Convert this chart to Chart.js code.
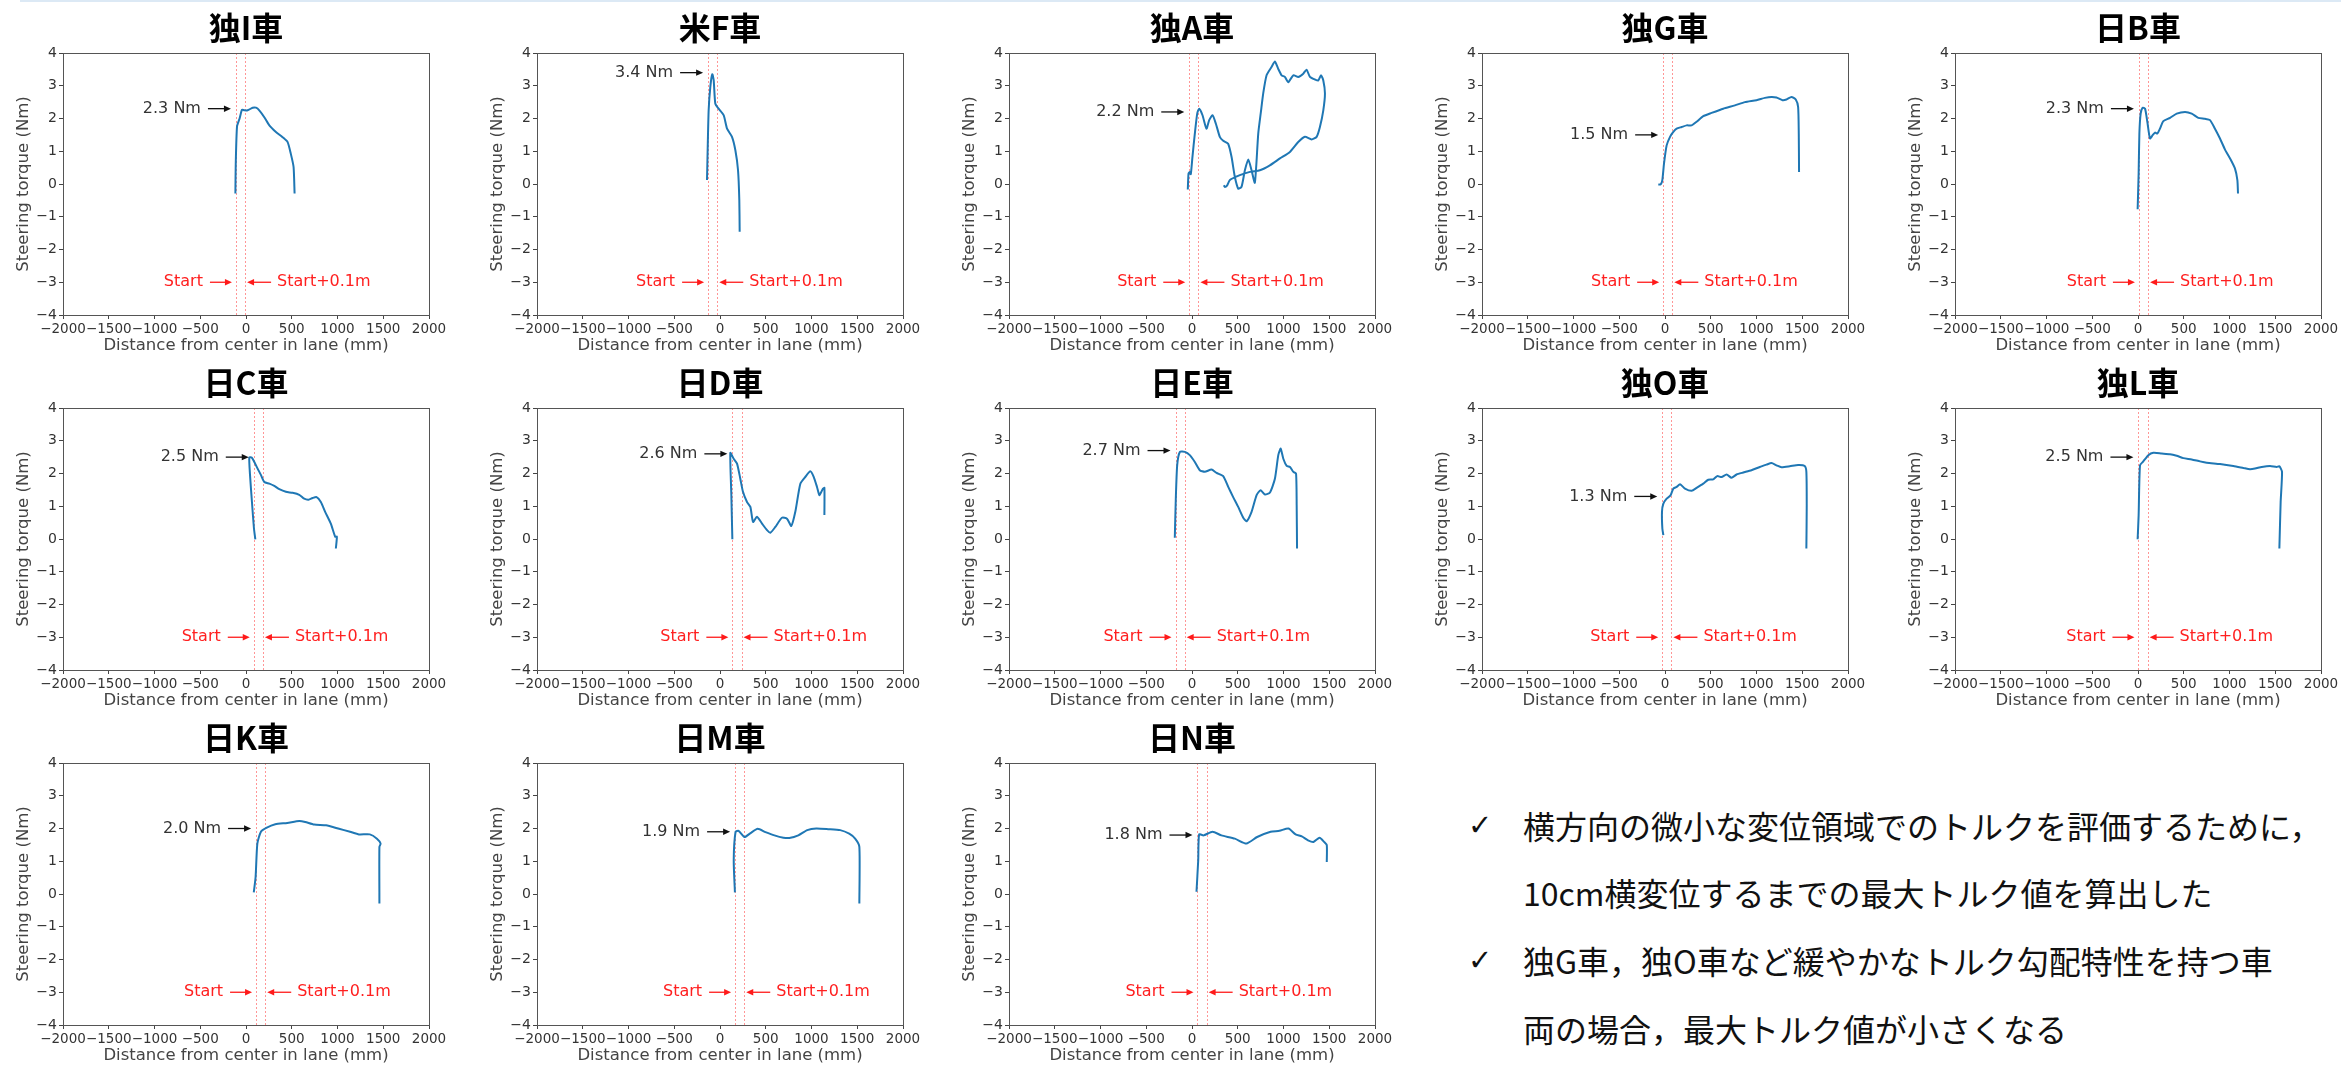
<!DOCTYPE html>
<html>
<head>
<meta charset="utf-8">
<script src="https://cdn.jsdelivr.net/npm/chart.js@4.4.0/dist/chart.umd.min.js"></script>
<style>
  html, body { margin: 0; padding: 0; background: #fff; }
  body { width: 2341px; height: 1065px; position: relative; overflow: hidden; }
  canvas { position: absolute; }
  .topline { position: absolute; left: 20px; right: 0; top: 0; height: 2px; background: #dce9f5; }
  .note { position: absolute; left: 1523px; font-family: "Noto Sans CJK JP"; font-size: 32px; line-height: 40px; color: #111; white-space: nowrap; }
  .check { position: absolute; left: 1468px; font-family: "DejaVu Sans"; font-size: 29px; line-height: 40px; color: #111; }
</style>
</head>
<body>
<div class="topline"></div>
<script>
// vehicle names, start position (mm) and max torque within start..start+0.1m (Nm)
const carNames = ['独I車', '米F車', '独A車', '独G車', '日B車', '日C車', '日D車', '日E車', '独O車', '独L車', '日K車', '日M車', '日N車'];
const startPos = [-110, -130, -30, -20, 10, 85, 135, -180, -30, 5, 110, 165, 60];
const peakTorque = [2.3, 3.4, 2.2, 1.5, 2.3, 2.5, 2.6, 2.7, 1.3, 2.5, 2.0, 1.9, 1.8];

const xTicks = [-2000, -1500, -1000, -500, 0, 500, 1000, 1500, 2000];
const yTicks = [-4, -3, -2, -1, 0, 1, 2, 3, 4];

// distance from center in lane (mm) / steering torque (Nm)
const distI = [-116, -112, -98, -70, -44, -18, 18, 73, 109, 145, 200, 255, 327, 400, 455, 490, 520, 531];
const torqueI = [-0.29, 0.62, 1.76, 2.00, 2.27, 2.25, 2.25, 2.33, 2.33, 2.25, 2.04, 1.79, 1.59, 1.43, 1.28, 0.92, 0.52, -0.29];

const distF = [-142, -135, -124, -106, -84, -69, -51, -15, 40, 77, 131, 168, 197, 211, 215];
const torqueF = [0.12, 1.03, 2.25, 2.96, 3.35, 3.17, 2.45, 2.30, 2.10, 1.69, 1.44, 1.03, 0.42, -0.49, -1.46];

const distA = [-46, -38, -24, -13, 5, 31, 57, 78, 115, 158, 188, 224, 261, 304, 341, 395, 432, 468, 505, 541,
  578, 615, 651, 687, 724, 753, 778, 815, 869, 906, 942, 979, 1015, 1052, 1107, 1161, 1216, 1252, 1289, 1344,
  1380, 1410, 1435, 1453, 1435, 1398, 1362, 1307, 1234, 1161, 1070, 961, 851, 742, 633, 523, 414, 385, 359, 348];
const torqueA = [-0.17, 0.32, 0.37, 0.30, 0.83, 1.54, 2.15, 2.30, 2.10, 1.69, 1.95, 2.10, 1.84, 1.44, 1.32, 1.23, 0.83, 0.22, -0.14, -0.09,
  0.42, 0.75, 0.42, 0.04, 1.54, 2.20, 2.76, 3.32, 3.57, 3.74, 3.52, 3.32, 3.27, 3.11, 3.32, 3.27, 3.37, 3.49, 3.27, 3.19,
  3.16, 3.32, 3.16, 2.76, 2.25, 1.74, 1.44, 1.36, 1.44, 1.28, 0.98, 0.78, 0.57, 0.42, 0.37, 0.27, 0.12, -0.04, -0.09, -0.04];

const distG = [-73, -47, -29, -11, 18, 55, 91, 127, 182, 236, 291, 345, 418, 509, 636, 764, 873, 1000, 1091, 1164, 1218, 1284, 1327, 1382, 1429, 1455, 1462, 1465];
const torqueG = [-0.02, -0.01, 0.12, 0.62, 1.18, 1.44, 1.59, 1.69, 1.74, 1.79, 1.79, 1.90, 2.07, 2.17, 2.30, 2.40, 2.50, 2.56, 2.63, 2.66, 2.64, 2.56, 2.58, 2.66, 2.58, 2.35, 1.54, 0.37];

const distB = [-4, 7, 15, 29, 51, 77, 102, 131, 160, 186, 211, 240, 277, 350, 423, 514, 587, 659, 732, 787, 841, 896, 951, 1006, 1060, 1086, 1093];
const torqueB = [-0.77, 0.32, 1.54, 2.15, 2.33, 2.30, 1.90, 1.39, 1.49, 1.57, 1.54, 1.69, 1.92, 2.02, 2.15, 2.20, 2.15, 2.02, 1.99, 1.95, 1.69, 1.39, 1.05, 0.78, 0.47, 0.12, -0.29];

const distC = [102, 87, 65, 44, 36, 62, 91, 127, 164, 200, 255, 309, 364, 436, 509, 582, 636, 684, 727, 771, 818, 865, 927, 975, 993, 982];
const torqueC = [-0.01, 0.32, 1.13, 1.95, 2.49, 2.49, 2.35, 2.15, 1.95, 1.74, 1.69, 1.62, 1.52, 1.44, 1.41, 1.35, 1.23, 1.20, 1.25, 1.28, 1.13, 0.83, 0.47, 0.07, 0.07, -0.29];

const distD = [135, 124, 113, 149, 186, 222, 251, 295, 332, 361, 404, 459, 514, 550, 605, 677, 732, 779, 823, 878, 933, 987, 1024, 1060, 1086, 1108, 1126, 1141, 1141];
const torqueD = [-0.01, 1.34, 2.63, 2.45, 2.30, 1.84, 1.44, 1.13, 0.98, 0.52, 0.68, 0.47, 0.27, 0.19, 0.37, 0.65, 0.62, 0.40, 0.83, 1.69, 1.90, 2.07, 1.90, 1.59, 1.34, 1.44, 1.54, 1.56, 0.73];

const distE = [-188, -177, -162, -133, -78, -24, 31, 85, 140, 213, 268, 341, 396, 450, 505, 560, 596, 651, 706, 749, 797, 852, 906, 943, 969, 998, 1035, 1071, 1108, 1137, 1144, 1148];
const torqueE = [0.04, 1.23, 2.25, 2.66, 2.66, 2.56, 2.35, 2.10, 2.05, 2.12, 2.02, 1.92, 1.59, 1.28, 0.98, 0.65, 0.54, 0.83, 1.34, 1.49, 1.36, 1.42, 1.84, 2.56, 2.76, 2.45, 2.23, 2.20, 2.05, 2.00, 1.03, -0.29];

const distO = [-18, -29, -33, -18, 18, 62, 91, 127, 164, 218, 291, 345, 418, 473, 527, 571, 618, 673, 727, 782, 855, 945, 1036, 1109, 1164, 1218, 1273, 1364, 1455, 1527, 1545, 1549, 1545];
const torqueO = [0.12, 0.32, 0.83, 1.08, 1.23, 1.34, 1.54, 1.59, 1.67, 1.54, 1.47, 1.56, 1.69, 1.81, 1.82, 1.92, 1.89, 1.97, 1.87, 1.97, 2.03, 2.10, 2.20, 2.27, 2.32, 2.25, 2.19, 2.22, 2.26, 2.23, 2.05, 1.03, -0.29];

const distL = [-4, 7, 22, 58, 113, 168, 259, 350, 423, 496, 587, 678, 751, 896, 1042, 1151, 1224, 1279, 1352, 1443, 1515, 1545, 1574, 1559, 1545];
const torqueL = [-0.01, 0.73, 2.25, 2.37, 2.56, 2.63, 2.61, 2.59, 2.54, 2.47, 2.43, 2.37, 2.33, 2.29, 2.23, 2.17, 2.13, 2.15, 2.20, 2.23, 2.20, 2.22, 2.05, 1.13, -0.29];

const distK = [85, 105, 124, 163, 222, 320, 451, 582, 647, 745, 876, 1007, 1137, 1235, 1353, 1431, 1471, 1458, 1458];
const torqueK = [0.05, 0.52, 1.54, 1.90, 2.02, 2.13, 2.17, 2.23, 2.20, 2.12, 2.10, 2.00, 1.90, 1.82, 1.82, 1.69, 1.54, 1.44, -0.29];

const distM = [163, 150, 170, 203, 268, 333, 412, 497, 595, 693, 758, 856, 954, 1052, 1183, 1314, 1412, 1477, 1523, 1523];
const torqueM = [0.05, 1.03, 1.90, 1.93, 1.74, 1.86, 1.99, 1.89, 1.79, 1.72, 1.71, 1.79, 1.95, 2.00, 1.98, 1.95, 1.84, 1.69, 1.44, -0.29];

const distN = [49, 68, 78, 127, 224, 322, 468, 595, 712, 859, 956, 1054, 1132, 1200, 1268, 1327, 1395, 1444, 1473, 1473];
const torqueN = [0.07, 1.03, 1.82, 1.79, 1.90, 1.79, 1.69, 1.54, 1.74, 1.90, 1.93, 2.00, 1.82, 1.76, 1.64, 1.59, 1.72, 1.59, 1.49, 0.98];

const distSets = [distI, distF, distA, distG, distB, distC, distD, distE, distO, distL, distK, distM, distN];
const torqueSets = [torqueI, torqueF, torqueA, torqueG, torqueB, torqueC, torqueD, torqueE, torqueO, torqueL, torqueK, torqueM, torqueN];

const noteLines = [
  '横方向の微小な変位領域でのトルクを評価するために，',
  '10cm横変位するまでの最大トルク値を算出した',
  '独G車，独O車など緩やかなトルク勾配特性を持つ車',
  '両の場合，最大トルク値が小さくなる'
];

// grid placement
const colLeft = [63, 537, 1009, 1482, 1955];
const rowTop = [53, 408, 763];
const plotW = 366, plotH = 262, axisW = 63, titleH = 53, xAxisH = 41, padR = 22;

Chart.defaults.font.family = 'DejaVu Sans';

const fmt = v => (v < 0 ? '\u2212' + Math.abs(v) : String(v));

function arrow(ctx, x0, x1, y, color) {
  const dir = Math.sign(x1 - x0);
  ctx.strokeStyle = color;
  ctx.fillStyle = color;
  ctx.lineWidth = 1.3;
  ctx.beginPath();
  ctx.moveTo(x0, y);
  ctx.lineTo(x1 - dir * 5, y);
  ctx.stroke();
  ctx.beginPath();
  ctx.moveTo(x1, y);
  ctx.lineTo(x1 - dir * 7, y - 3.2);
  ctx.lineTo(x1 - dir * 7, y + 3.2);
  ctx.closePath();
  ctx.fill();
}

const markers = {
  id: 'markers',
  beforeDatasetsDraw(chart, args, o) {
    const {ctx, chartArea: a, scales: {x}} = chart;
    ctx.save();
    ctx.strokeStyle = 'rgba(255,80,80,0.6)';
    ctx.lineWidth = 1;
    ctx.setLineDash([2, 2]);
    [o.start, o.start + 100].forEach(v => {
      const px = Math.round(x.getPixelForValue(v)) + 0.5;
      ctx.beginPath();
      ctx.moveTo(px, a.top);
      ctx.lineTo(px, a.bottom);
      ctx.stroke();
    });
    ctx.restore();
  },
  afterDatasetsDraw(chart, args, o) {
    const {ctx, chartArea: a, scales: {x, y}} = chart;
    const x1 = x.getPixelForValue(o.start);
    const x2 = x.getPixelForValue(o.start + 100);
    ctx.save();
    ctx.font = '16px "DejaVu Sans"';
    ctx.textBaseline = 'middle';
    const yp = y.getPixelForValue(o.peak);
    arrow(ctx, x1 - 28, x1 - 5, yp, '#111');
    ctx.fillStyle = '#333';
    ctx.textAlign = 'right';
    ctx.fillText(o.peak.toFixed(1) + ' Nm', x1 - 35, yp);
    const ys = y.getPixelForValue(-3);
    arrow(ctx, x1 - 26, x1 - 4, ys, '#ff1a1a');
    ctx.fillStyle = '#ff2020';
    ctx.fillText('Start', x1 - 33, ys);
    arrow(ctx, x2 + 26, x2 + 2, ys, '#ff1a1a');
    ctx.fillStyle = '#ff2020';
    ctx.textAlign = 'left';
    ctx.fillText('Start+0.1m', x2 + 32, ys);
    // frame (top / right spines)
    ctx.strokeStyle = '#555';
    ctx.lineWidth = 1;
    ctx.strokeRect(Math.round(a.left) + 0.5, Math.round(a.top) + 0.5, Math.round(a.right - a.left), Math.round(a.bottom - a.top));
    ctx.restore();
  }
};

carNames.forEach((name, i) => {
  const col = i < 10 ? i % 5 : i - 10;
  const row = i < 10 ? Math.floor(i / 5) : 2;
  const cv = document.createElement('canvas');
  cv.width = axisW + plotW + padR;
  cv.height = titleH + plotH + xAxisH;
  cv.style.left = (colLeft[col] - axisW) + 'px';
  cv.style.top = (rowTop[row] - titleH) + 'px';
  document.body.appendChild(cv);

  const pts = distSets[i].map((d, k) => ({x: d, y: torqueSets[i][k]}));

  new Chart(cv, {
    type: 'line',
    data: {
      datasets: [{
        data: pts,
        borderColor: '#1f77b4',
        borderWidth: 2,
        pointRadius: 0,
        tension: 0.2,
        fill: false
      }]
    },
    options: {
      responsive: false,
      animation: false,
      layout: {padding: {right: padR}},
      plugins: {
        legend: {display: false},
        tooltip: {enabled: false},
        title: {
          display: true,
          text: name,
          fullSize: false,
          color: '#000',
          font: {family: '"Noto Sans CJK JP"', size: 32, weight: 'bold', lineHeight: 1.2},
          padding: {top: 8.8, bottom: 5.8}
        },
        markers: {start: startPos[i], peak: peakTorque[i]}
      },
      scales: {
        x: {
          type: 'linear',
          min: -2000,
          max: 2000,
          afterBuildTicks: s => { s.ticks = xTicks.map(v => ({value: v})); },
          afterFit: s => { s.height = xAxisH; },
          ticks: {autoSkip: false, maxRotation: 0, minRotation: 0, padding: 2, color: '#333',
            font: {size: 13.5}, callback: v => fmt(v)},
          grid: {drawOnChartArea: false, drawTicks: true, tickLength: 4, color: '#444'},
          border: {color: '#555'},
          title: {display: true, text: 'Distance from center in lane (mm)', color: '#444',
            font: {size: 16.5}, padding: {top: 0, bottom: 0}}
        },
        y: {
          min: -4,
          max: 4,
          afterBuildTicks: s => { s.ticks = yTicks.map(v => ({value: v})); },
          afterFit: s => { s.width = axisW; },
          ticks: {padding: 2, color: '#333', font: {size: 14}, callback: v => fmt(v)},
          grid: {drawOnChartArea: false, drawTicks: true, tickLength: 4, color: '#444'},
          border: {color: '#555'},
          title: {display: true, text: 'Steering torque (Nm)', color: '#444',
            font: {size: 16.5}, padding: {top: 13.6, bottom: 0}}
        }
      }
    },
    plugins: [markers]
  });
});

// bullet notes
const lineCenters = [825, 892, 960, 1028];
noteLines.forEach((t, k) => {
  const d = document.createElement('div');
  d.className = 'note';
  d.style.top = (lineCenters[k] - 20) + 'px';
  d.textContent = t;
  document.body.appendChild(d);
  if (k === 0 || k === 2) {
    const c = document.createElement('div');
    c.className = 'check';
    c.style.top = (lineCenters[k] - 20) + 'px';
    c.textContent = '✓';
    document.body.appendChild(c);
  }
});
</script>
</body>
</html>
